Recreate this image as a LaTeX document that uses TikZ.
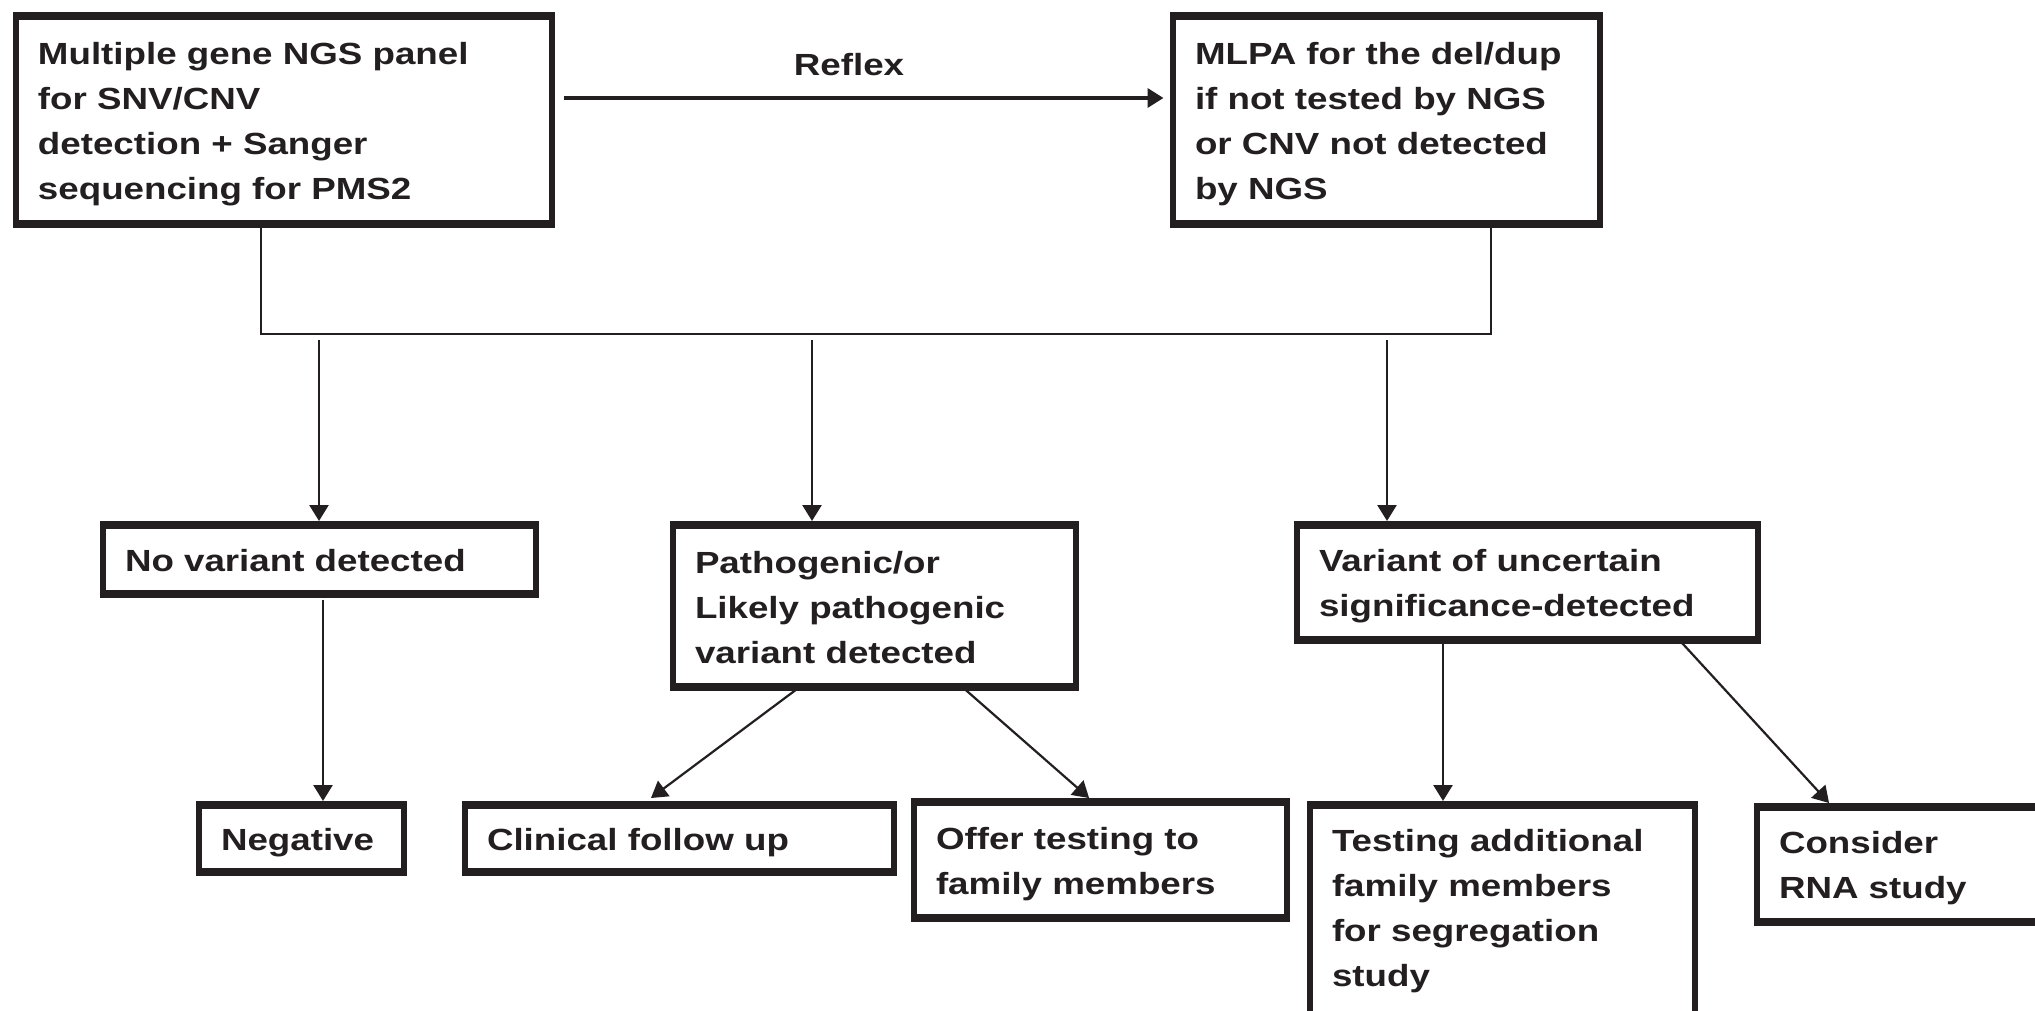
\documentclass[tikz,border=0pt]{standalone}
\usepackage{fontspec}
\setmainfont{Liberation Sans}[FakeStretch=1.2]
\usetikzlibrary{arrows.meta}
\definecolor{ink}{HTML}{231F20}
\begin{document}
\begin{tikzpicture}[x=0.5pt,y=-0.5pt,
  every node/.style={font=\fontsize{15.3pt}{22.5pt}\selectfont\bfseries, text=ink},
  box/.style={draw=ink, line width=3pt, rectangle, outer sep=0pt,
    inner xsep=11pt, inner ysep=0pt, align=left,
    execute at begin node={\rule{0pt}{15pt}},
    execute at end node={\rule[-3pt]{0pt}{3pt}}},
  lbl/.style={inner sep=0pt},
  bus/.style={draw=ink, line width=0.8pt},
  flow/.style={draw=ink, line width=1.3pt, -{Triangle[length=8pt,width=9.5pt]}},
  slant/.style={draw=ink, line width=1.1pt, -{Triangle[length=8pt,width=9.5pt]}}]

\useasboundingbox (0,0) rectangle (2035,1011);
\clip (0,0) rectangle (2035,1011);
\fill[white] (0,0) rectangle (2035,1011);

% first row: tests
\node[box, text width=246pt, minimum height=104pt] (b1) at (284,120)
  {Multiple gene NGS panel\\for SNV/CNV\\detection + Sanger\\sequencing for PMS2};
\node[box, text width=191.5pt, minimum height=104pt] (b2) at (1386.5,120)
  {MLPA for the del/dup\\if not tested by NGS\\or CNV not detected\\by NGS};

% second row: results
\node[box, text width=194.5pt, minimum height=34.5pt] (novar) at (319.5,559.5)
  {No variant detected};
\node[box, text width=179.5pt, minimum height=81pt] (patho) at (874.5,606)
  {Pathogenic/or\\Likely pathogenic\\variant detected};
\node[box, text width=208.5pt, minimum height=57.5pt] (vus) at (1527.5,582.5)
  {Variant of uncertain\\significance-detected};

% third row: follow-up
\node[box, text width=80.5pt, minimum height=33.5pt] (neg) at (301.5,838.5)
  {Negative};
\node[box, text width=192.5pt, minimum height=33.5pt] (clin) at (679.5,838.5)
  {Clinical follow up};
\node[box, text width=164.5pt, minimum height=58pt] (offer) at (1100.5,860)
  {Offer testing to\\family members};
\node[box, text width=170.5pt, minimum height=110.5pt,
      execute at end node={\rule[-12pt]{0pt}{12pt}}] (test) at (1502.5,915.5)
  {Testing additional\\family members\\for segregation\\study};
\node[box, text width=135.5pt, minimum height=57.5pt] (cons) at (1914.5,864.5)
  {Consider\\RNA study};

% heavier top and bottom rules of every box
\foreach \n in {b1,b2,novar,patho,vus,neg,clin,offer,test,cons} {
  \draw[ink, line width=4pt] ([xshift=-1.5pt]\n.north west) -- ([xshift=1.5pt]\n.north east);
  \draw[ink, line width=4pt] ([xshift=-1.5pt]\n.south west) -- ([xshift=1.5pt]\n.south east);
}

% reflex step
\draw[flow, line width=1.8pt] ([xshift=5.75pt,yshift=11pt]b1.east) -- ([xshift=-4.75pt,yshift=11pt]b2.west);
\node[lbl] (reflex) at (849,65) {Reflex};

% collecting line below both tests
\coordinate (busL) at (261,334);
\coordinate (busR) at (1491,334);
\draw[bus] (b1.south -| busL) -- (busL) -- (busR) -- (b2.south -| busR);

% branches to the three outcomes
\coordinate (d1) at (319,340);
\coordinate (d2) at (812,340);
\coordinate (d3) at (1387,340);
\draw[flow, shorten >=2pt] (d1) -- (novar.north -| d1);
\draw[flow, shorten >=2pt] (d2) -- (patho.north -| d2);
\draw[flow, shorten >=2pt] (d3) -- (vus.north -| d3);

% outcome to next step
\coordinate (n1) at (323,0);
\draw[flow, shorten <=2.75pt, shorten >=2pt] (novar.south -| n1) -- (neg.north -| n1);

\coordinate (p1) at (799.7,0);
\coordinate (p2) at (641.6,0);
\draw[slant, shorten >=5.85pt] (patho.south -| p1) -- (clin.north -| p2);
\coordinate (p3) at (962.3,0);
\coordinate (p4) at (1093.6,0);
\draw[slant, shorten >=3pt] (patho.south -| p3) -- (offer.north -| p4);

\coordinate (v1) at (1443,0);
\draw[flow, shorten >=2pt] (vus.south -| v1) -- (test.north -| v1);
\coordinate (v2) at (1679.3,0);
\coordinate (v3) at (1832.7,0);
\draw[slant, shorten >=2.7pt] (vus.south -| v2) -- (cons.north -| v3);

\end{tikzpicture}
\end{document}
